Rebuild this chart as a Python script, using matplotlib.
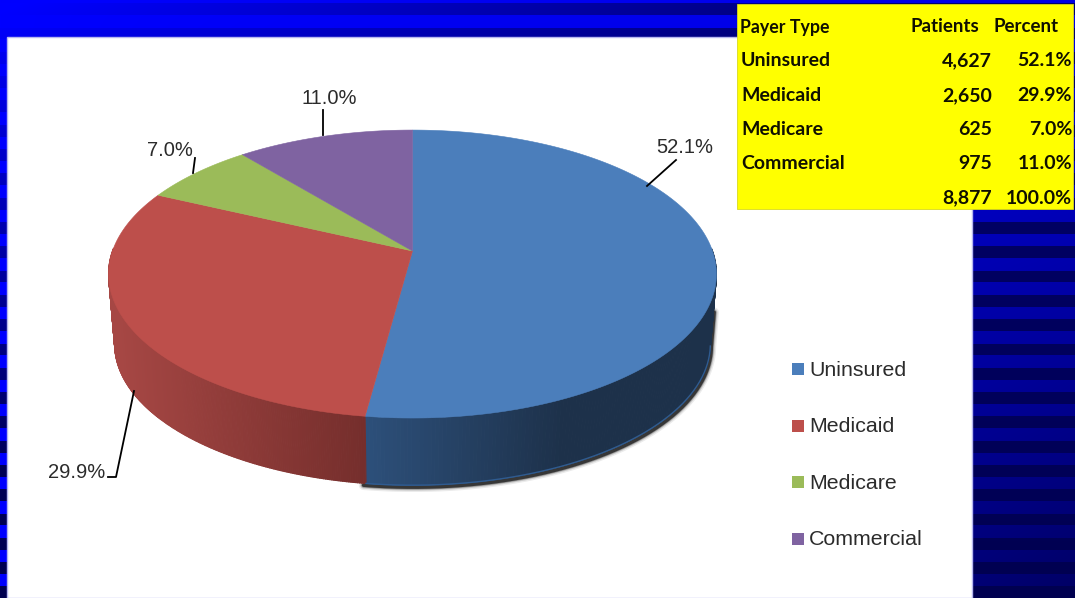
import numpy as np
import matplotlib
matplotlib.use("Agg")
import matplotlib.pyplot as plt
from matplotlib.collections import PolyCollection
from matplotlib.patches import Polygon, Rectangle

categories = ["Uninsured", "Medicaid", "Medicare", "Commercial"]
patients = [4627, 2650, 625, 975]
percents = ["52.1%", "29.9%", "7.0%", "11.0%"]
patient_labels = ["4,627", "2,650", "625", "975"]
total_label = "8,877"
total_percent = "100.0%"
header = ["Payer Type", "Patients", "Percent"]

top_colors = ["#4b7ebb", "#bd4f4b", "#9bbb59", "#7f63a1"]
W, H = 1075, 598
CX, CY = 412.5, 251
BOTTOM_SCALE, DROP = 0.98, 70.5


def rim(theta, scale=1.0, drop=0.0):
    # perspective view of the unit circle, theta clockwise from 12 o'clock
    u, v = np.sin(theta), np.cos(theta)
    w = 1 + 0.16 * v
    x = CX + scale * 300 * u / w
    y = CY - scale * 140.3 * v / w + drop
    return x, y


def background():
    yy, xx = np.mgrid[0:H, 0:W]
    bright = 255 - 0.025 * xx - xx / 1000 * 0.2 * yy
    floor = 110 - 0.05 * yy
    dark = np.maximum(floor, 260 - 0.165 * xx - 0.37 * yy)
    is_dark = ((yy - 2.8) % 24.3) < 11.8
    blue = np.where(is_dark, dark, bright)
    img = np.zeros((H, W, 3))
    img[..., 2] = np.clip(blue, 0, 255) / 255
    return img


fig = plt.figure(figsize=(W / 100, H / 100), dpi=100)
ax = fig.add_axes([0, 0, 1, 1])
ax.set_xlim(0, W)
ax.set_ylim(H, 0)
ax.axis("off")

ax.imshow(background(), extent=(0, W, H, 0), aspect="auto", zorder=0)
ax.add_patch(Rectangle((7, 37), 965, H - 37, fc="white", ec="#b8b8f0", lw=1, zorder=1))

fracs = np.array(patients) / sum(patients)
edges = np.concatenate([[0], np.cumsum(fracs)]) * 2 * np.pi

# soft shadow under the blue side
th = np.linspace(np.radians(99), edges[1] + 0.01, 200)
sx, sy = rim(th, BOTTOM_SCALE, DROP)
x0, y0 = rim(np.radians(97), 0.99, 42)
sx, sy = np.r_[x0, sx], np.r_[y0, sy]
for lw, a in [(7, 0.08), (5, 0.15), (3.5, 0.3), (2.5, 0.6)]:
    ax.plot(sx + 1, sy + 2, color="black", lw=lw, alpha=a, zorder=2, solid_capstyle="round")

# side wall, shaded strip by strip, front half only
polys, cols = [], []
for i in range(2):
    steps = np.linspace(edges[i], edges[i + 1], 300)
    for a, b in zip(steps[:-1], steps[1:]):
        if np.cos(a) > 0.02 or np.cos(b) > 0.02:
            continue
        x1, y1 = rim(a)
        x2, y2 = rim(b)
        x3, y3 = rim(b, BOTTOM_SCALE, DROP)
        x4, y4 = rim(a, BOTTOM_SCALE, DROP)
        polys.append([(x1, y1), (x2, y2), (x3, y3), (x4, y4)])
        if i == 0:
            t = np.clip((x1 - 365) / 200, 0, 1)
            c0, c1 = np.array([0x2d, 0x50, 0x7b]), np.array([0x1d, 0x31, 0x4a])
        else:
            t = np.clip((x1 - 117) / 248, 0, 1)
            c0, c1 = np.array([0xa6, 0x47, 0x44]), np.array([0x75, 0x2e, 0x2c])
        cols.append((c0 + (c1 - c0) * t) / 255)
ax.add_collection(PolyCollection(polys, facecolors=cols, edgecolors=cols, linewidths=0.8, zorder=3))

# lighter edge along the blue bottom
th = np.linspace(np.radians(100), edges[1], 200)
ex, ey = rim(th, BOTTOM_SCALE, DROP)
ax.plot(ex, ey, color="#2f5b90", lw=1, zorder=4)

# top face
for i, color in enumerate(top_colors):
    th = np.linspace(edges[i], edges[i + 1], 300)
    x, y = rim(th)
    pts = np.column_stack([np.r_[CX, x], np.r_[CY, y]])
    ax.add_patch(Polygon(pts, closed=True, fc=color, ec=color, lw=0.4, zorder=5))

# slice labels with leader lines
label_font = dict(family="Liberation Sans", color="#2b2b2b", zorder=7)
leaders = [
    ([647, 676], [186, 160], 685, 147),
    ([134, 116, 108], [391, 477, 477], 77, 472),
    ([193, 195], [173, 158], 170, 150),
    ([323, 323], [135, 110], 329, 98),
]
for (lx, ly, tx, ty), pct in zip(leaders, percents):
    ax.plot(lx, ly, color="black", lw=1.3, zorder=6)
    ax.text(tx, ty + 0.5, pct, ha="center", va="center", fontsize=14.5, **label_font)

# legend
for i, (name, color) in enumerate(zip(categories, top_colors)):
    y = 369 + i * 56.6
    ax.add_patch(Rectangle((792, y - 6), 12, 12, fc=color, ec="none", zorder=6))
    ax.text(809, y + 1, name, ha="left", va="center", fontsize=15.4, **label_font)

# yellow table
ax.add_patch(Rectangle((737, 4), 336, 205, fc="#ffff00", ec="#d8d820", lw=0.6, zorder=8))
table_font = dict(family="Lato", fontweight="bold", color="#101000", va="center", zorder=9)
ax.text(740, 27, header[0], ha="left", fontsize=12.8, **table_font)
ax.text(979, 27, header[1], ha="right", fontsize=13.5, **table_font)
ax.text(1059, 27, header[2], ha="right", fontsize=13.5, **table_font)
for i, name in enumerate(categories):
    y = 61 + i * 34.3
    ax.text(741, y, name, ha="left", fontsize=14, **table_font)
    ax.text(992, y, patient_labels[i], ha="right", fontsize=14, **table_font)
    ax.text(1072, y, percents[i], ha="right", fontsize=14, **table_font)
ax.text(992, 198, total_label, ha="right", fontsize=14, **table_font)
ax.text(1072, 198, total_percent, ha="right", fontsize=14, **table_font)

fig.savefig("out.png", dpi=100)
